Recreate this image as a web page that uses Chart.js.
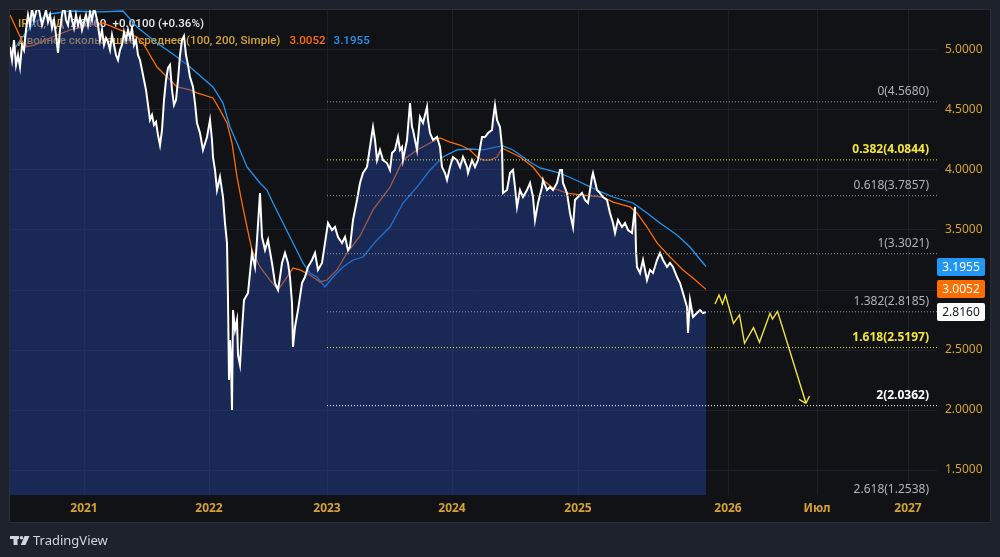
<!DOCTYPE html>
<html><head><meta charset="utf-8">
<script src="https://cdn.jsdelivr.net/npm/chart.js@4.4.1/dist/chart.umd.min.js"></script>
<style>html,body{margin:0;padding:0;background:#1e222d;}#wrap{width:1000px;height:557px;}</style>
</head><body><div id="wrap"><canvas id="c" width="1000" height="557"></canvas></div>
<script>
// ---- data (x = trading-bar index from chart start) ----
const xTickBars   = [148, 398, 634, 884, 1136, 1436, 1614, 1796];
const xTickLabels = ['2021','2022','2023','2024','2025','2026','Июл','2027'];
const yTicks = [1.5, 2.0, 2.5, 3.0, 3.5, 4.0, 4.5, 5.0];

const priceBars = [0,4,8,12,16,20,24,28,32,36,40,44,48,52,56,60,64,68,72,76,80,84,88,92,96,100,104,108,112,116,120,124,128,132,136,140,144,148,152,156,160,164,168,172,176,180,184,188,192,196,200,204,208,212,216,220,224,228,232,236,240,244,248,252,256,260,264,268,272,276,280,284,288,292,296,300,304,308,312,316,320,324,328,332,336,340,344,348,352,356,
360,366,370,374,380,386,394,400,404,406,410,414,420,426,430,434,436,438,440,442,444,446,450,454,456,460,464,468,476,484,490,494,500,504,510,516,524,530,536,540,544,550,556,560,564,566,570,576,584,590,596,604,610,616,624,630,636,644,650,656,664,670,676,680,686,694,700,706,714,720,726,730,734,740,746,754,760,764,770,776,780,784,786,794,800,804,806,814,820,826,834,836,840,846,854,860,864,870,874,880,886,894,900,906,914,916,924,930,936,944,950,956,964,966,970,974,980,984,986,994,1000,1006,1010,1014,1020,1026,1034,1040,1046,1050,1056,1064,1066,1074,1080,1086,1094,1100,1104,1106,1114,1120,1126,1130,1136,1144,1150,1156,1164,1166,1174,1180,1186,1194,1200,1206,1210,1216,1224,1230,1236,1244,1250,1252,1254,1260,1266,1274,1280,1286,1294,1300,1306,1314,1320,1326,1334,1340,1346,1354,1356,1360,1366,1374,1380,1386,1392];
const priceClose = [5.025,4.917,5.083,4.875,4.958,4.858,5.042,5.000,5.167,5.292,5.208,5.350,5.250,5.317,5.375,5.292,5.208,5.267,5.333,5.233,5.292,5.183,5.250,5.125,4.975,5.167,5.292,5.375,5.250,5.208,5.333,5.250,5.183,5.292,5.208,5.267,5.167,5.233,5.292,5.208,5.317,5.250,5.350,5.292,5.208,5.083,5.167,5.042,5.100,5.067,5.000,5.125,5.042,4.958,4.917,5.000,5.042,5.150,5.083,5.167,5.100,5.183,5.042,5.083,4.958,4.917,4.833,4.750,4.667,4.542,4.417,4.458,4.375,4.400,4.292,4.208,4.333,4.583,4.750,4.850,4.875,4.667,4.542,4.583,4.750,4.958,5.083,5.117,4.958,4.875,
4.775,4.692,4.558,4.392,4.308,4.167,4.275,4.417,4.250,4.108,4.000,3.833,3.942,3.775,3.558,3.392,2.917,2.250,2.583,2.417,2.000,2.833,2.667,2.750,2.458,2.375,2.667,2.917,2.975,3.308,3.192,3.417,3.808,3.442,3.333,3.417,3.225,3.058,3.000,3.108,3.225,3.308,3.225,3.108,2.892,2.525,2.692,2.833,3.058,3.108,3.192,3.250,3.308,3.167,3.225,3.392,3.558,3.500,3.525,3.442,3.392,3.442,3.333,3.358,3.583,3.750,3.892,3.975,4.025,4.192,4.358,4.250,4.083,4.167,4.083,4.058,4.000,4.142,4.167,4.275,4.167,4.192,4.083,4.250,4.558,4.358,4.333,4.167,4.442,4.392,4.525,4.417,4.308,4.250,4.275,4.192,4.025,3.975,3.917,4.025,4.108,4.083,4.025,4.108,4.025,3.975,4.083,4.025,4.083,4.275,4.275,4.308,4.333,4.417,4.542,4.417,4.358,4.192,3.808,3.833,3.975,4.000,3.858,3.692,3.833,3.775,3.833,3.892,3.775,3.583,3.725,3.858,3.917,3.833,3.858,3.833,3.892,4.000,4.000,3.892,3.808,3.642,3.525,3.750,3.775,3.808,3.750,3.725,3.942,3.975,3.833,3.808,3.775,3.750,3.642,3.558,3.475,3.583,3.525,3.558,3.500,3.475,3.692,3.333,3.192,3.142,3.250,3.083,3.167,3.142,3.250,3.308,3.250,3.192,3.225,3.192,3.108,3.058,2.975,2.858,2.642,2.917,2.775,2.808,2.833,2.808,2.816];

const ma100Bars = [0,14,30,50,80,120,160,186,220,254,266,294,314,334,360,374,406,420,434,444,454,464,474,484,500,520,536,554,566,580,600,620,634,654,674,700,726,760,786,814,840,860,880,900,920,934,946,960,974,984,1000,1020,1046,1066,1086,1114,1140,1186,1206,1240,1254,1274,1294,1320,1346,1366,1392];
const ma100Vals = [5.292,5.167,5.025,5.042,5.100,5.167,5.208,5.225,5.167,5.108,5.058,4.858,4.775,4.692,4.667,4.642,4.600,4.500,4.392,4.225,3.942,3.725,3.525,3.333,3.192,3.083,3.000,3.108,3.183,3.167,3.125,3.067,3.083,3.167,3.308,3.450,3.667,3.858,4.083,4.167,4.225,4.267,4.233,4.208,4.167,4.108,4.083,4.083,4.108,4.183,4.150,4.108,4.025,3.917,3.850,3.808,3.792,3.775,3.733,3.692,3.642,3.525,3.392,3.275,3.167,3.100,3.0052];

const ma200Bars = [0,20,50,80,120,180,226,254,294,334,360,406,426,440,454,474,500,514,526,546,566,586,600,614,630,646,666,686,706,734,760,786,814,840,866,894,920,946,974,986,1006,1026,1040,1060,1100,1140,1174,1206,1246,1274,1300,1334,1360,1376,1392];
const ma200Vals = [4.942,5.083,5.233,5.300,5.325,5.317,5.325,5.192,5.058,4.942,4.858,4.692,4.558,4.358,4.225,4.025,3.892,3.833,3.725,3.558,3.392,3.225,3.142,3.108,3.025,3.108,3.192,3.250,3.275,3.417,3.525,3.725,3.858,4.000,4.108,4.167,4.175,4.167,4.192,4.200,4.167,4.108,4.067,4.017,3.975,3.900,3.833,3.775,3.725,3.642,3.558,3.458,3.358,3.275,3.1955];

const projBars = [1410,1418,1425,1431,1447,1459,1469,1487,1499,1520,1525,1535,1592];
const projVals = [2.883,2.958,2.883,2.958,2.722,2.792,2.556,2.686,2.564,2.806,2.758,2.822,2.056];

const fibRatios = ['0','0.382','0.618','1','1.382','1.618','2','2.618'];
const fibLevels = [4.5680,4.0844,3.7857,3.3021,2.8185,2.5197,2.0362,1.2538];
const fibKinds  = ['gray','yellow','gray','gray','gray','yellow','white','gray'];
const fibStartBar = 634, xMaxBar = 1854;

const lastPrice = 2.8160, ma100Last = 3.0052, ma200Last = 3.1955;

// ---- styles ----
const GOLD = '#d4a233';
const FONT = '"Noto Sans", "DejaVu Sans", sans-serif';
const HFONT = 'Roboto, "Noto Sans", sans-serif';
const fibColor = {gray:'#9598a1', yellow:'#f2e43a', white:'#ffffff'};
const fibText  = {gray:'#aeb1b9', yellow:'#f2e43a', white:'#ffffff'};

const zip = (xs, ys) => xs.map((x,i)=>({x, y: ys[i]}));

const datasets = [
  {data: zip(ma200Bars, ma200Vals), borderColor:'#2196f3', borderWidth:1.3, order:4},
  {data: zip(ma100Bars, ma100Vals), borderColor:'#ff6d00', borderWidth:1.3, order:3},
  {data: zip(priceBars, priceClose), borderColor:'#ffffff', borderWidth:2, order:2,
   fill:'start', backgroundColor:'rgba(38,69,165,0.45)'},
];
fibLevels.forEach((lv,i)=>{
  datasets.push({data:[{x:fibStartBar,y:lv},{x:xMaxBar,y:lv}], borderColor:fibColor[fibKinds[i]],
    borderWidth:1, borderDash:[1,2], order:1});
});
datasets.push({data: zip(projBars, projVals), borderColor:'#f2e43a', borderWidth:1.4, order:0});

const deco = {
  id:'deco',
  beforeDraw(chart){
    const ctx = chart.ctx;
    ctx.save();
    ctx.fillStyle = '#1e222d'; ctx.fillRect(0,0,1000,557);
    ctx.fillStyle = '#111216'; ctx.fillRect(10,10,980,512);
    ctx.strokeStyle = '#2a2e39'; ctx.lineWidth = 1; ctx.strokeRect(9.5,9.5,981,513);
    ctx.restore();
  },
  beforeDatasetsDraw(chart){
    const ctx = chart.ctx;
    ctx.save();
    ctx.textBaseline = 'middle'; ctx.textAlign = 'left';
    let x = 18;
    ctx.font = '500 11.6px ' + HFONT; ctx.fillStyle = GOLD;
    ctx.fillText('IRAO, 1Д', x, 24); x += ctx.measureText('IRAO, 1Д').width + 6;
    ctx.fillStyle = '#e8e8e8';
    ctx.fillText('2.8160', x, 24); x += ctx.measureText('2.8160').width + 6;
    ctx.fillText('+0.0100 (+0.36%)', x, 24);
    x = 18;
    ctx.fillStyle = GOLD;
    const t = 'Двойное скользящее среднее (100, 200, Simple)';
    ctx.fillText(t, x, 41); x += ctx.measureText(t).width + 9;
    ctx.fillStyle = '#ff6d00'; ctx.fillText('3.0052', x, 41); x += ctx.measureText('3.0052').width + 8;
    ctx.fillStyle = '#2196f3'; ctx.fillText('3.1955', x, 41);
    ctx.restore();
  },
  afterDatasetsDraw(chart){
    const ctx = chart.ctx, ys = chart.scales.y, xs = chart.scales.x;
    ctx.save();
    ctx.textAlign = 'right'; ctx.textBaseline = 'middle';
    fibLevels.forEach((lv,i)=>{
      const k = fibKinds[i];
      ctx.font = (k==='gray' ? '' : 'bold ') + '12px ' + FONT;
      ctx.fillStyle = fibText[k];
      ctx.fillText(fibRatios[i] + '(' + lv.toFixed(4) + ')', 929, ys.getPixelForValue(lv) - 10);
    });
    const n = projBars.length;
    const x1 = xs.getPixelForValue(projBars[n-2]), y1 = ys.getPixelForValue(projVals[n-2]);
    const x2 = xs.getPixelForValue(projBars[n-1]), y2 = ys.getPixelForValue(projVals[n-1]);
    const a = Math.atan2(y2-y1, x2-x1);
    ctx.strokeStyle = '#f2e43a'; ctx.lineWidth = 1.4;
    ctx.beginPath();
    [0.75,-0.75].forEach(d=>{
      ctx.moveTo(x2,y2);
      ctx.lineTo(x2 - 8*Math.cos(a+d), y2 - 8*Math.sin(a+d));
    });
    ctx.stroke();
    ctx.restore();
  },
  afterDraw(chart){
    const ctx = chart.ctx, ys = chart.scales.y;
    ctx.save();
    const tags = [[ma200Last,'#2196f3','#ffffff'],[ma100Last,'#ff6d00','#ffffff'],[lastPrice,'#ffffff','#131722']];
    ctx.font = '12px ' + FONT; ctx.textAlign = 'center'; ctx.textBaseline = 'middle';
    tags.forEach(([v,bg,fg])=>{
      const y = Math.round(ys.getPixelForValue(v));
      ctx.fillStyle = bg;
      ctx.beginPath(); ctx.roundRect(937, y-9, 48, 18, 2); ctx.fill();
      ctx.fillStyle = fg; ctx.fillText(v.toFixed(4), 961, y+0.5);
    });
    ctx.fillStyle = '#d1d4dc';
    ctx.fillRect(10,536,9,3); ctx.fillRect(13.5,536,4,9);
    ctx.beginPath(); ctx.arc(21.5,537.8,1.8,0,Math.PI*2); ctx.fill();
    ctx.beginPath(); ctx.moveTo(24.5,536); ctx.lineTo(29.5,536); ctx.lineTo(25.5,545); ctx.lineTo(20.8,545); ctx.closePath(); ctx.fill();
    ctx.font = '13px ' + FONT; ctx.textAlign = 'left'; ctx.textBaseline = 'middle';
    ctx.fillText('TradingView', 33, 541);
    ctx.restore();
  }
};

new Chart(document.getElementById('c'), {
  type:'line',
  data:{datasets},
  options:{
    responsive:false, animation:false, events:[],
    layout:{padding:{left:10, top:10, right:10, bottom:35}},
    elements:{point:{radius:0}, line:{tension:0}},
    plugins:{legend:{display:false}, tooltip:{enabled:false}},
    scales:{
      x:{type:'linear', min:0, max:xMaxBar,
        afterBuildTicks(s){ s.ticks = xTickBars.map(v=>({value:v})); },
        afterFit(s){ s.height = 27; s.paddingLeft = 0; s.paddingRight = 0; },
        ticks:{autoSkip:false, maxRotation:0, padding:6, color:GOLD,
          font:{family:FONT, size:12, weight:'bold'},
          callback:(v)=>{ const i = xTickBars.indexOf(v); return i>=0 ? xTickLabels[i] : ''; }},
        grid:{color:'#1d2028', drawTicks:false}, border:{display:false}},
      y:{type:'linear', position:'right', min:1.2917, max:5.3333,
        afterBuildTicks(s){ s.ticks = yTicks.map(v=>({value:v})); },
        afterFit(s){ s.width = 53; s.paddingTop = 0; s.paddingBottom = 0; },
        ticks:{padding:8, color:GOLD, font:{family:FONT, size:12},
          callback:(v)=>Number(v).toFixed(4)},
        grid:{color:'#1d2028', drawTicks:false}, border:{display:false}}
    }
  },
  plugins:[deco]
});
</script>
</body></html>
